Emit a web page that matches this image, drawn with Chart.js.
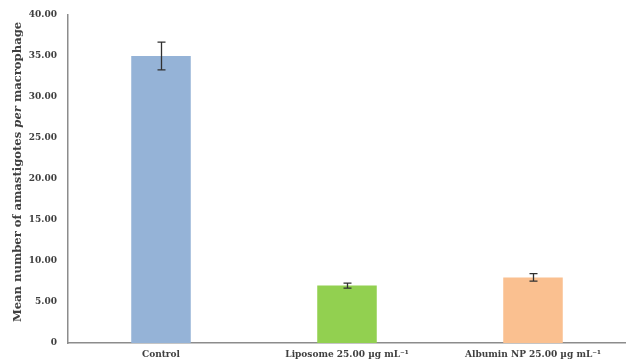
<!DOCTYPE html>
<html>
<head>
<meta charset="utf-8">
<script src="https://cdn.jsdelivr.net/npm/chart.js@4.4.1/dist/chart.umd.min.js"></script>
<style>
  html, body { margin: 0; padding: 0; background: #fff; }
  #wrap { width: 626px; height: 364px; }
</style>
</head>
<body>
<div id="wrap"><canvas id="chart" width="626" height="364"></canvas></div>
<script>
const categories = ["Control", "Liposome 25.00 \u00b5g mL\u207b\u00b9", "Albumin NP 25.00 \u00b5g mL\u207b\u00b9"];
const means = [35.0, 7.0, 8.0];
const errors = [1.7, 0.3, 0.45];
const barColors = ["#95b3d7", "#92d050", "#fac090"];
const yTicks = ["0", "5.00", "10.00", "15.00", "20.00", "25.00", "30.00", "35.00", "40.00"];

const textColor = "#404040";
const serif = "'DejaVu Serif', 'Liberation Serif', serif";
const titleSize = 11.6;

// error bars drawn on top of the bars
const errorBars = {
    id: "errorBars",
    afterDatasetsDraw(chart) {
        const ctx = chart.ctx;
        const y = chart.scales.y;
        const meta = chart.getDatasetMeta(0);
        ctx.save();
        ctx.strokeStyle = "#303030";
        ctx.lineWidth = 1.3;
        meta.data.forEach((bar, i) => {
            const x = Math.round(bar.x) + 0.5;
            const top = y.getPixelForValue(means[i] + errors[i]);
            const bot = y.getPixelForValue(means[i] - errors[i]);
            ctx.beginPath();
            ctx.moveTo(x, top); ctx.lineTo(x, bot);
            ctx.moveTo(x - 4, top); ctx.lineTo(x + 4, top);
            ctx.moveTo(x - 4, bot); ctx.lineTo(x + 4, bot);
            ctx.stroke();
        });
        ctx.restore();
    }
};

// y title with italic "per"
const yTitle = {
    id: "yTitle",
    afterDraw(chart) {
        const ctx = chart.ctx;
        const parts = [
            ["Mean number of amastigotes ", "bold"],
            ["per", "italic bold"],
            [" macrophage", "bold"]
        ];
        ctx.save();
        let total = 0;
        parts.forEach(p => { ctx.font = p[1] + " " + titleSize + "px " + serif; total += ctx.measureText(p[0]).width; });
        const cy = (chart.chartArea.top + chart.chartArea.bottom) / 2 - 7;
        ctx.translate(18, cy);
        ctx.rotate(-Math.PI / 2);
        ctx.fillStyle = textColor;
        ctx.textBaseline = "middle";
        let x = -total / 2;
        parts.forEach(p => {
            ctx.font = p[1] + " " + titleSize + "px " + serif;
            ctx.fillText(p[0], x, 0);
            x += ctx.measureText(p[0]).width;
        });
        ctx.restore();
    }
};

new Chart(document.getElementById("chart"), {
    type: "bar",
    data: {
        labels: categories,
        datasets: [{
            data: means,
            backgroundColor: barColors,
            borderWidth: 0,
            barPercentage: 0.32,
            categoryPercentage: 1.0
        }]
    },
    options: {
        responsive: false,
        animation: false,
        layout: { padding: { top: 15, right: 0, left: 0, bottom: 0 } },
        plugins: { legend: { display: false }, tooltip: { enabled: false } },
        scales: {
            x: {
                grid: { display: false, drawTicks: false },
                border: { color: "#8c8c8c", width: 1.5 },
                ticks: { color: textColor, font: { family: serif, weight: "bold", size: 9 }, padding: 6, maxRotation: 0, autoSkip: false },
                afterFit(s) { s.height = 21; }
            },
            y: {
                min: 0, max: 40,
                grid: { display: false, drawTicks: true, tickLength: 5, tickColor: "#8c8c8c" },
                border: { color: "#8c8c8c", width: 1.5 },
                ticks: {
                    stepSize: 5,
                    color: textColor,
                    font: { family: serif, weight: "bold", size: 9 },
                    padding: 6,
                    callback: (v, i) => yTicks[i]
                },
                afterFit(s) { s.width = 68; }
            }
        }
    },
    plugins: [errorBars, yTitle]
});
</script>
</body>
</html>
